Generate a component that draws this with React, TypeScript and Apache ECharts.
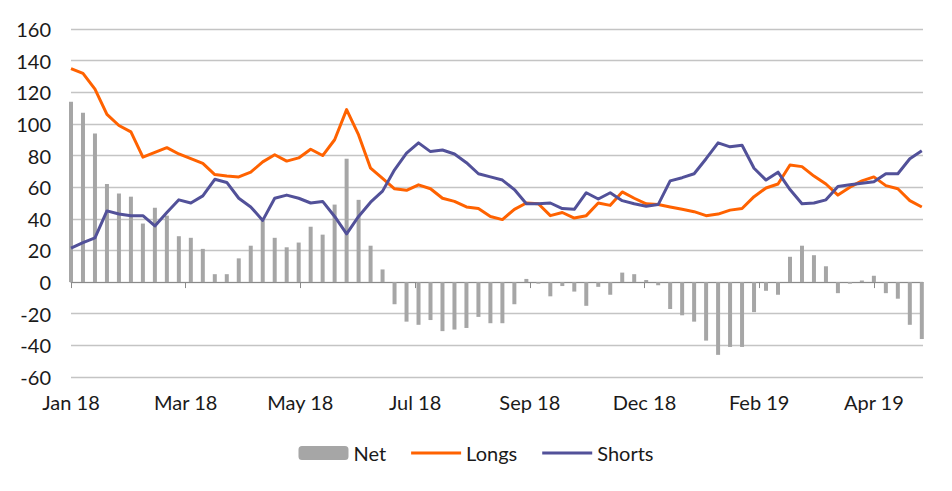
import React, { useEffect, useRef } from "react";
import * as echarts from "echarts";

// Weekly observations (Tuesdays), Jan 2018 – May 2019
const weeks: string[] = [
  "2018-01-02", "2018-01-09", "2018-01-16", "2018-01-23", "2018-01-30",
  "2018-02-06", "2018-02-13", "2018-02-20", "2018-02-27",
  "2018-03-06", "2018-03-13", "2018-03-20", "2018-03-27",
  "2018-04-03", "2018-04-10", "2018-04-17", "2018-04-24",
  "2018-05-01", "2018-05-08", "2018-05-15", "2018-05-22", "2018-05-29",
  "2018-06-05", "2018-06-12", "2018-06-19", "2018-06-26",
  "2018-07-03", "2018-07-10", "2018-07-17", "2018-07-24", "2018-07-31",
  "2018-08-07", "2018-08-14", "2018-08-21", "2018-08-28",
  "2018-09-04", "2018-09-11", "2018-09-18", "2018-09-25",
  "2018-10-02", "2018-10-09", "2018-10-16", "2018-10-23", "2018-10-30",
  "2018-11-06", "2018-11-13", "2018-11-20", "2018-11-27",
  "2018-12-04", "2018-12-11", "2018-12-18", "2018-12-25",
  "2019-01-01", "2019-01-08", "2019-01-15", "2019-01-22", "2019-01-29",
  "2019-02-05", "2019-02-12", "2019-02-19", "2019-02-26",
  "2019-03-05", "2019-03-12", "2019-03-19", "2019-03-26",
  "2019-04-02", "2019-04-09", "2019-04-16", "2019-04-23", "2019-04-30",
  "2019-05-07", "2019-05-14",
];

const net: number[] = [
  114, 107, 94, 62, 56, 54, 37, 47, 42, 29,
  28, 21, 5, 5, 15, 23, 39, 28, 22, 25,
  35, 30, 49, 78, 52, 23, 8, -14, -25, -27,
  -24, -31, -30, -29, -22, -26, -26, -14, 2, -1,
  -9, -2.5, -6, -15, -3, -8, 6, 5, 1.3, -2,
  -17, -21, -25, -37, -46, -41, -41, -19, -5.5, -8,
  16, 23, 17, 10, -7, -1, 1, 4, -7, -10.5,
  -27, -36,
];

const longs: number[] = [
  135, 132, 122, 106, 99, 95, 79, 82, 85, 81,
  78, 75, 68, 67, 66.5, 69.5, 76, 80.5, 76.5, 78.5,
  84, 80, 90, 109, 93, 72, 65.5, 59, 58, 61.5,
  59, 53, 51, 47.5, 46.5, 41.5, 39.5, 46, 50, 49.5,
  42, 44, 40.5, 42, 50, 48.5, 57, 53, 49.5, 49,
  47.5, 46, 44.5, 42, 43, 45.5, 46.5, 54, 59.5, 62,
  74, 73, 67, 62, 55, 60, 64, 66.5, 61, 59,
  51.5, 47.5,
];

const shorts: number[] = [
  21.5, 25, 28, 45, 43, 42, 42, 35.5, 44, 52,
  50, 54.5, 65, 63, 53, 47.5, 39, 53, 55, 53,
  50, 51, 41.5, 30.5, 41.5, 50.5, 57.5, 71, 81.5, 88,
  82.5, 83.5, 81, 75.5, 68.5, 66.5, 64.5, 58.5, 49.5, 49.5,
  50, 46.5, 46, 56.5, 52.5, 56.5, 51.5, 49.5, 48, 49,
  64, 66, 68.5, 78, 88, 85.5, 86.5, 72, 64.5, 69.5,
  58.5, 49.5, 50, 52, 60.5, 61.5, 62.5, 63.5, 68.5, 68.5,
  78, 83,
];

// Axis tick labels and their positions (in weeks from the first observation)
const xTickLabels: string[] = ["Jan 18", "Mar 18", "May 18", "Jul 18", "Sep 18", "Dec 18", "Feb 19", "Apr 19"];
const xTickWeeks: number[] = [0, 9.571, 19.143, 28.714, 38.286, 47.857, 57.429, 67];

const FONT = "Lato, 'Noto Sans', sans-serif";
const LINE_ICON = "path://M0 0H50V3H0Z";

export default function App() {
  const ref = useRef<HTMLDivElement>(null);

  useEffect(() => {
    if (!ref.current) return;
    const chart = echarts.init(ref.current, undefined, { renderer: "svg" });

    const pairs = (arr: number[]) => arr.map((v, i) => [i, v]);
    const labelFor = (v: number) => {
      const k = xTickWeeks.findIndex((t) => Math.abs(t - v) < 0.01);
      return k >= 0 ? xTickLabels[k] : "";
    };

    chart.setOption({
      animation: false,
      textStyle: { fontFamily: FONT },
      grid: { left: 71, right: 29, top: 29, bottom: 114 },
      xAxis: [
        {
          type: "value",
          min: 0,
          max: 71.1,
          position: "bottom",
          axisLine: { show: true, onZero: true, lineStyle: { color: "#8a8a8a", width: 1 } },
          axisTick: { show: true, length: 6, customValues: xTickWeeks, lineStyle: { color: "#8a8a8a" } },
          axisLabel: { show: false },
          splitLine: { show: false },
        },
        {
          type: "value",
          min: 0,
          max: 71.1,
          position: "bottom",
          axisLine: { show: false, onZero: false },
          axisTick: { show: false },
          splitLine: { show: false },
          axisLabel: {
            show: true,
            customValues: xTickWeeks,
            formatter: (v: number) => labelFor(v),
            color: "#1a1a1a",
            fontSize: 20,
            fontFamily: FONT,
            margin: 15,
          },
        },
      ],
      yAxis: {
        type: "value",
        min: -60,
        max: 160,
        interval: 20,
        axisLine: { show: false },
        axisTick: { show: false },
        axisLabel: { color: "#1a1a1a", fontSize: 20, fontFamily: FONT, margin: 20 },
        splitLine: { show: true, lineStyle: { color: "#c4c4c4", width: 1.3 } },
      },
      legend: {
        top: 438,
        left: "center",
        itemWidth: 50,
        itemHeight: 14,
        itemGap: 25,
        symbolKeepAspect: true,
        textStyle: { color: "#1a1a1a", fontSize: 20, fontFamily: FONT },
        data: [
          { name: "Net", icon: "roundRect" },
          { name: "Longs", icon: LINE_ICON },
          { name: "Shorts", icon: LINE_ICON },
        ],
      },
      series: [
        {
          name: "Net",
          type: "bar",
          xAxisIndex: 0,
          data: pairs(net),
          barWidth: 4,
          clip: false,
          itemStyle: { color: "#a6a6a6" },
          z: 1,
        },
        {
          name: "Longs",
          type: "line",
          xAxisIndex: 0,
          data: pairs(longs),
          symbol: "none",
          lineStyle: { color: "#ff6200", width: 3, join: "round" },
          itemStyle: { color: "#ff6200" },
          z: 3,
        },
        {
          name: "Shorts",
          type: "line",
          xAxisIndex: 0,
          data: pairs(shorts),
          symbol: "none",
          lineStyle: { color: "#525199", width: 3, join: "round" },
          itemStyle: { color: "#525199" },
          z: 4,
        },
      ],
    });

    return () => chart.dispose();
  }, []);

  return (
    <div
      ref={ref}
      style={{ position: "absolute", left: 0, top: 0, width: 952, height: 491 }}
    />
  );
}
